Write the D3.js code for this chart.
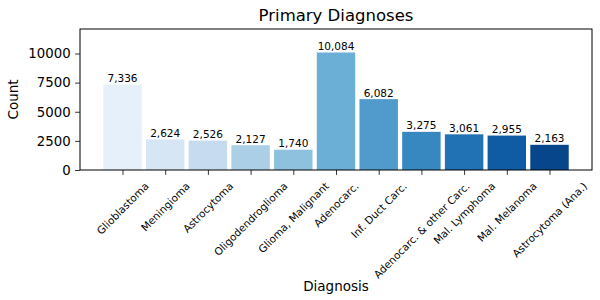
<!DOCTYPE html>
<html>
<head>
<meta charset="utf-8">
<script src="https://cdn.jsdelivr.net/npm/d3@7"></script>
<style>
  body { margin: 0; background: #fff; }
  text { font-family: "DejaVu Sans", sans-serif; fill: #000; }
</style>
</head>
<body>
<script>
const diagnoses = ['Glioblastoma', 'Meningioma', 'Astrocytoma', 'Oligodendroglioma', 'Glioma, Malignant',
  'Adenocarc.', 'Inf. Duct Carc.', 'Adenocarc. & other Carc.', 'Mal. Lymphoma', 'Mal. Melanoma', 'Astrocytoma (Ana.)']
const counts = [7336, 2624, 2526, 2127, 1740, 10084, 6082, 3275, 3061, 2955, 2163]
const yTicks = [0, 2500, 5000, 7500, 10000]

const margin = {top: 29, right: 8, bottom: 130, left: 80}
, width = 600 - margin.left - margin.right
, height = 300 - margin.top - margin.bottom

// matplotlib "Blues" stops
const blues = d3.piecewise(d3.interpolateRgb, ['#f7fbff', '#deebf7', '#c6dbef', '#9ecae1', '#6baed6',
  '#4292c6', '#2171b5', '#08519c', '#08306b'])
const n = counts.length

const svg = d3.select('body').append('svg')
    .attr('width', 600)
    .attr('height', 300)

const xScale = d3.scaleLinear()
    .domain([-0.45 - 0.05 * (n - 0.1), n - 1 + 0.45 + 0.05 * (n - 0.1)])
    .range([margin.left, margin.left + width])

const yScale = d3.scaleLinear()
    .domain([0, d3.max(counts) * 1.2])
    .range([margin.top + height, margin.top])

const g = svg.append('g')

g.selectAll('.bar').data(counts)
  .enter()
  .append('rect')
    .attr('x', (d, i) => xScale(i - 0.45))
    .attr('width', (d, i) => xScale(i + 0.45) - xScale(i - 0.45))
    .attr('y', d => yScale(d))
    .attr('height', d => yScale(0) - yScale(d))
    .attr('fill', (d, i) => blues((i + 1) / (n + 1)))

g.selectAll('.blabel').data(counts)
  .enter()
  .append('text')
    .attr('x', (d, i) => xScale(i))
    .attr('y', d => yScale(d) - 2.5)
    .attr('text-anchor', 'middle')
    .attr('font-size', '10.5px')
    .text(d => d3.format(',')(d))

// y axis
const yAxis = svg.append('g')
    .attr('transform', 'translate(' + margin.left + ',0)')
    .call(d3.axisLeft(yScale).tickValues(yTicks).tickFormat(d3.format('d')).tickSize(4.9).tickPadding(4.5))
yAxis.select('.domain').remove()
yAxis.selectAll('text').attr('font-size', '13.3px').attr('font-family', 'DejaVu Sans').attr('fill', '#000')
yAxis.selectAll('line').attr('stroke', '#000').attr('stroke-width', 0.8)

// x axis
const xAxis = svg.append('g')
    .attr('transform', 'translate(0,' + (margin.top + height) + ')')
    .call(d3.axisBottom(xScale).tickValues(d3.range(n)).tickFormat('').tickSize(4.9))
xAxis.select('.domain').remove()
xAxis.selectAll('line').attr('stroke', '#000').attr('stroke-width', 0.8)

const fs = 10.4
const lab = svg.append('g')
diagnoses.forEach((name, i) => {
  const t = lab.append('text')
      .attr('font-size', fs + 'px')
      .attr('text-anchor', 'middle')
      .attr('dominant-baseline', 'central')
      .text(name)
  const L = t.node().getComputedTextLength()
  const bh = (L + fs * 1.17) * Math.SQRT1_2
  const cx = xScale(i), cy = margin.top + height + 9.7 + bh / 2
  t.attr('transform', 'translate(' + cx + ',' + cy + ') rotate(-45)')
})

// frame
svg.append('rect')
    .attr('x', margin.left)
    .attr('y', margin.top)
    .attr('width', width)
    .attr('height', height)
    .attr('fill', 'none')
    .attr('stroke', '#000')
    .attr('stroke-width', 1)

svg.append('text')
    .attr('x', margin.left + width / 2)
    .attr('y', 21)
    .attr('text-anchor', 'middle')
    .attr('font-size', '16.5px')
    .text('Primary Diagnoses')

svg.append('text')
    .attr('x', margin.left + width / 2)
    .attr('y', 291)
    .attr('text-anchor', 'middle')
    .attr('font-size', '13.5px')
    .text('Diagnosis')

svg.append('text')
    .attr('transform', 'translate(18,' + (margin.top + height / 2) + ') rotate(-90)')
    .attr('text-anchor', 'middle')
    .attr('font-size', '13.5px')
    .text('Count')
</script>
</body>
</html>
